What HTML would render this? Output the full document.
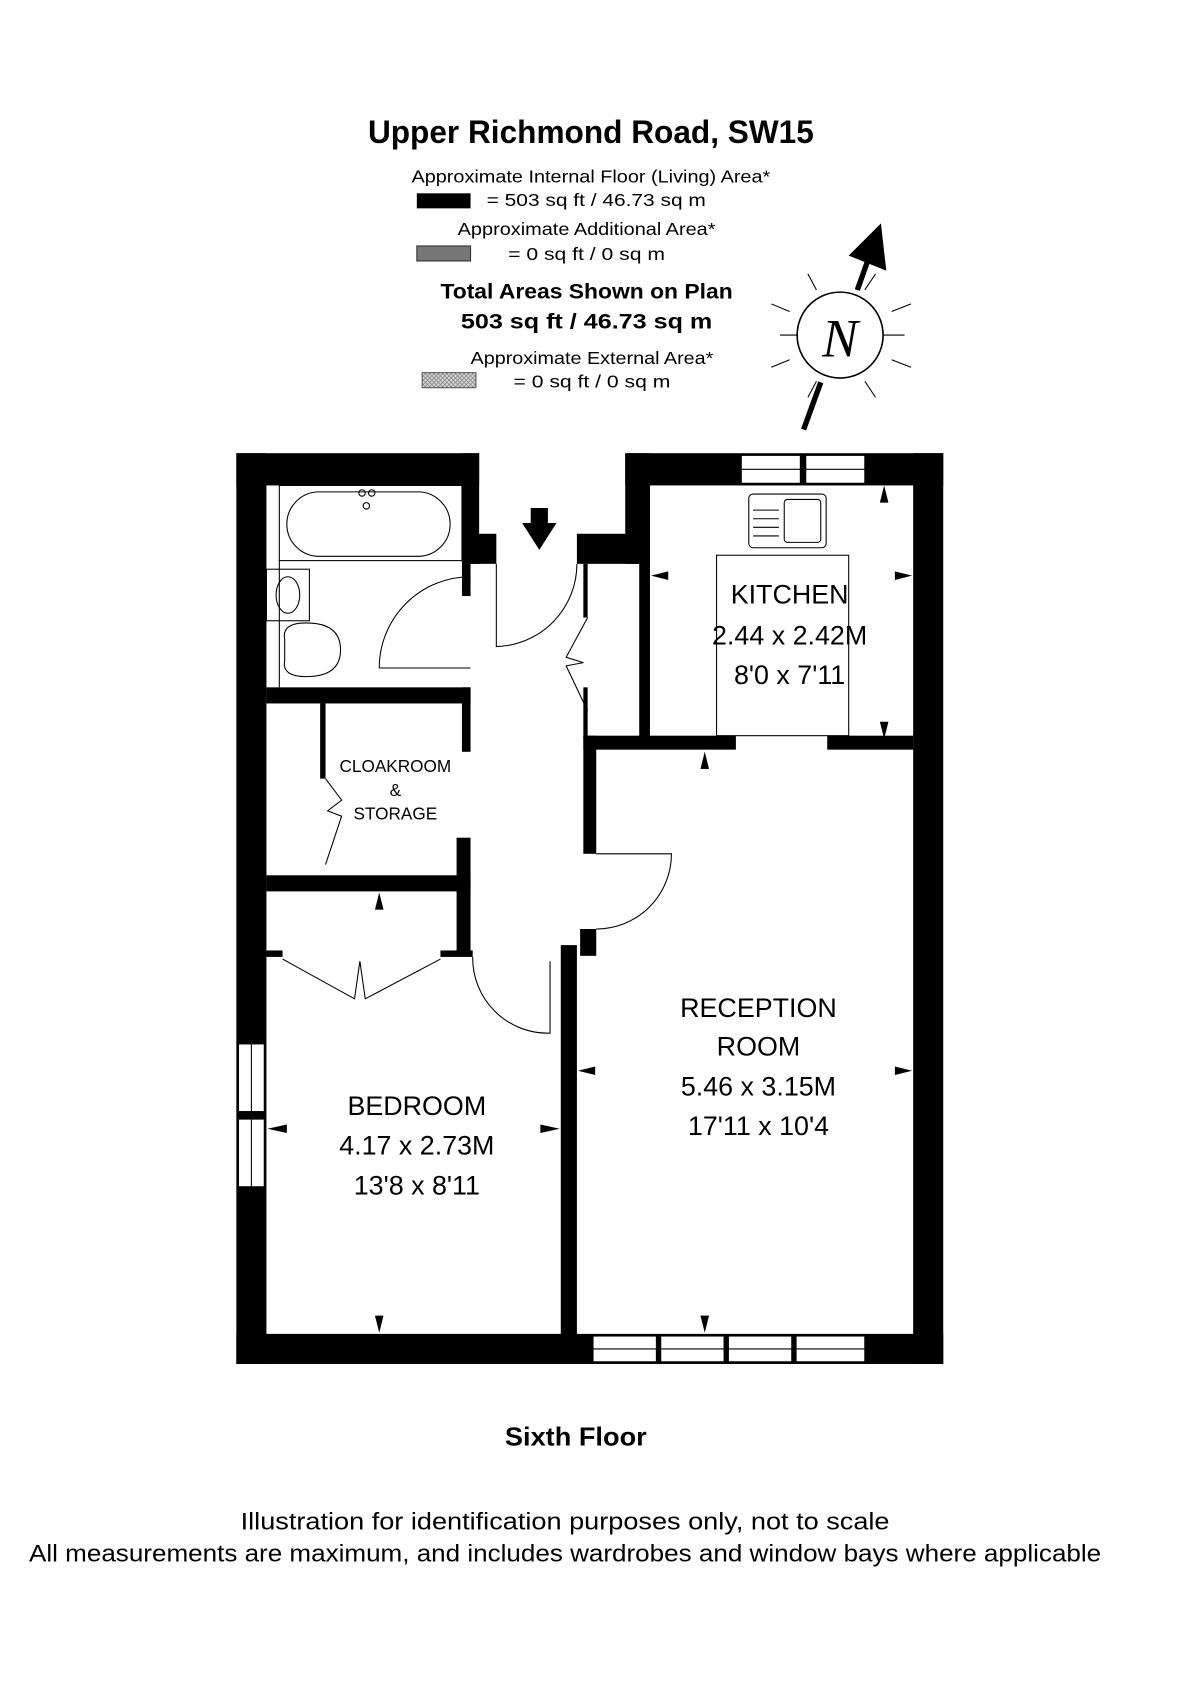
<!DOCTYPE html>
<html><head><meta charset="utf-8"><style>html,body{margin:0;padding:0;background:#fff}svg{display:block}</style></head>
<body>
<svg width="1200" height="1684" viewBox="0 0 1117 1568" preserveAspectRatio="none" xmlns="http://www.w3.org/2000/svg" font-family="'Liberation Sans', 'DejaVu Sans', sans-serif">
<defs><pattern id="hatch" width="4" height="4" patternUnits="userSpaceOnUse"><rect width="4" height="4" fill="#ddd"/><path d="M0 0L4 4M4 0L0 4" stroke="#777" stroke-width="0.7"/></pattern></defs>
<g text-anchor="middle" fill="#000">
<text x="550" y="133" font-size="30" font-weight="bold" textLength="415" lengthAdjust="spacingAndGlyphs">Upper Richmond Road, SW15</text>
<text x="550" y="170" font-size="16" textLength="334" lengthAdjust="spacingAndGlyphs">Approximate Internal Floor (Living) Area*</text>
<text x="555" y="192" font-size="16" textLength="204" lengthAdjust="spacingAndGlyphs">= 503 sq ft  /  46.73 sq m</text>
<text x="546" y="219" font-size="16" textLength="240" lengthAdjust="spacingAndGlyphs">Approximate Additional Area*</text>
<text x="546" y="242" font-size="16" textLength="146" lengthAdjust="spacingAndGlyphs">= 0 sq ft  /  0 sq m</text>
<text x="546" y="278" font-size="20" font-weight="bold" textLength="272" lengthAdjust="spacingAndGlyphs">Total Areas Shown on Plan</text>
<text x="546" y="306" font-size="20" font-weight="bold" textLength="234" lengthAdjust="spacingAndGlyphs">503 sq ft  /  46.73 sq m</text>
<text x="551" y="339" font-size="16" textLength="226" lengthAdjust="spacingAndGlyphs">Approximate External Area*</text>
<text x="551" y="361" font-size="16" textLength="146" lengthAdjust="spacingAndGlyphs">= 0 sq ft  /  0 sq m</text>
</g>
<rect x="388" y="180" width="50" height="14" fill="#000"/>
<rect x="388" y="229" width="50" height="14" fill="#777" stroke="#333"/>
<rect x="393" y="347" width="50" height="14" fill="url(#hatch)" stroke="#555"/>
<g stroke="#000" fill="none">
<circle cx="782" cy="312" r="40" stroke-width="1.5"/>
<g stroke-width="1"><line x1="735" y1="290" x2="718" y2="283"/><line x1="735" y1="335" x2="718" y2="342"/><line x1="830" y1="290" x2="848" y2="283"/><line x1="830" y1="335" x2="848" y2="342"/><line x1="760" y1="270" x2="752" y2="255"/><line x1="805" y1="270" x2="815" y2="255"/><line x1="760" y1="355" x2="752" y2="370"/><line x1="805" y1="355" x2="815" y2="370"/><line x1="726" y1="312" x2="742" y2="312"/><line x1="822" y1="312" x2="842" y2="312"/></g>
<line x1="748" y1="400" x2="764" y2="356" stroke-width="5"/>
<line x1="798" y1="270" x2="808" y2="242" stroke-width="5"/>
</g>
<polygon points="820,208 825,252 790,238" fill="#000"/>
<text x="782" y="332" font-size="50" font-family="'Liberation Serif', serif" font-style="italic" text-anchor="middle">N</text>
<g fill="#000">
<rect x="220" y="422" width="28" height="848"/>
<rect x="220" y="1242" width="658" height="28"/>
<rect x="850" y="422" width="28" height="848"/>
<rect x="220" y="422" width="226" height="30"/>
<rect x="430" y="422" width="16" height="103"/>
<rect x="430" y="497" width="32" height="28"/>
<rect x="430" y="525" width="8" height="30"/>
<rect x="430" y="640" width="8" height="60"/>
<rect x="582" y="422" width="296" height="30"/>
<rect x="582" y="422" width="23" height="103"/>
<rect x="537" y="497" width="68" height="28"/>
<rect x="595" y="452" width="10" height="236"/>
<rect x="543" y="525" width="4" height="50"/>
<rect x="543" y="640" width="4" height="48"/>
<rect x="543" y="685" width="142" height="13"/>
<rect x="770" y="685" width="80" height="13"/>
<rect x="543" y="685" width="12" height="110"/>
<rect x="540" y="865" width="15" height="25"/>
<rect x="522" y="880" width="15" height="370"/>
<rect x="248" y="640" width="190" height="15"/>
<rect x="298" y="655" width="5" height="70"/>
<rect x="425" y="780" width="13" height="110"/>
<rect x="248" y="815" width="190" height="15"/>
<rect x="248" y="885" width="15" height="6"/>
<rect x="410" y="885" width="30" height="6"/>
</g>
<g fill="#fff" stroke="#000" stroke-width="1">
<rect x="690" y="424" width="55" height="26"/><line x1="690" y1="437" x2="745" y2="437"/>
<rect x="750" y="424" width="55" height="26"/><line x1="750" y1="437" x2="805" y2="437"/>
<rect x="552" y="1244" width="59" height="24"/><rect x="615" y="1244" width="59" height="24"/><rect x="678" y="1244" width="59" height="24"/><rect x="741" y="1244" width="64" height="24"/>
<line x1="552" y1="1256" x2="805" y2="1256"/>
<rect x="222" y="972" width="24" height="63"/><rect x="222" y="1042" width="24" height="63"/>
<line x1="234" y1="972" x2="234" y2="1105"/>
</g>
<g fill="none" stroke="#000" stroke-width="1">
<rect x="260" y="452" width="170" height="70"/>
<rect x="267" y="458" width="152" height="60" rx="30"/>
<circle cx="337" cy="459" r="3"/><circle cx="346" cy="459" r="3"/><circle cx="341" cy="471" r="3"/>
<line x1="260" y1="522" x2="260" y2="640"/>
<rect x="248" y="530" width="40" height="48"/><ellipse cx="268" cy="554" rx="11" ry="17"/>
<path d="M265 595 Q262 580 285 580 Q317 580 317 605 Q317 630 285 630 Q262 630 265 615 Z"/>
<path d="M353 622 A85 85 0 0 1 438 537"/><line x1="353" y1="622" x2="438" y2="622"/>
<path d="M462 525 L462 602 A77 77 0 0 0 537 525"/>
<path d="M547 575 L527 612 L543 617 L527 620 L547 662"/>
<path d="M303 725 L318 745 L305 755 L318 760 L303 805"/>
<rect x="667" y="517" width="123" height="168"/>
<rect x="697" y="460" width="72" height="50" rx="4"/><rect x="730" y="465" width="34" height="40" rx="3"/>
<line x1="701" y1="475" x2="725" y2="475"/><line x1="701" y1="483" x2="725" y2="483"/><line x1="701" y1="491" x2="725" y2="491"/><line x1="701" y1="499" x2="725" y2="499"/>
<path d="M555 865 A70 70 0 0 0 625 795 L555 795"/>
<path d="M440 891 A70 70 0 0 0 512 962 L512 895"/>
<path d="M263 893 L330 930 L335 895 L340 930 L410 893"/>
</g>
<polygon points="494,473 510,473 510,487 518,487 502,512 486,487 494,487" fill="#000"/>
<g fill="#000">
<polygon points="823,452 819,468 827,468"/><polygon points="823,688 819,672 827,672"/>
<polygon points="606,536 622,532 622,540"/><polygon points="849,536 833,532 833,540"/>
<polygon points="656,700 652,716 660,716"/><polygon points="656,1241 652,1225 660,1225"/>
<polygon points="538,997 554,993 554,1001"/><polygon points="849,997 833,993 833,1001"/>
<polygon points="353,831 349,847 357,847"/><polygon points="353,1241 349,1225 357,1225"/>
<polygon points="249,1051 267,1047 267,1055"/><polygon points="521,1051 503,1047 503,1055"/>
</g>
<g text-anchor="middle" fill="#000" font-size="25">
<text x="735" y="562">KITCHEN</text>
<text x="735" y="600">2.44 x 2.42M</text>
<text x="735" y="637">8'0 x 7'11</text>
<text x="706" y="947">RECEPTION</text>
<text x="706" y="983">ROOM</text>
<text x="706" y="1020">5.46 x 3.15M</text>
<text x="706" y="1057">17'11 x 10'4</text>
<text x="388" y="1038">BEDROOM</text>
<text x="388" y="1075">4.17 x 2.73M</text>
<text x="388" y="1112">13'8 x 8'11</text>
<g font-size="16"><text x="368" y="719">CLOAKROOM</text><text x="368" y="741">&amp;</text><text x="368" y="763">STORAGE</text></g>
<text x="536" y="1346" font-size="24" font-weight="bold" textLength="132" lengthAdjust="spacingAndGlyphs">Sixth Floor</text>
<text x="526" y="1424" font-size="22" textLength="604" lengthAdjust="spacingAndGlyphs">Illustration for identification purposes only, not to scale</text>
<text x="526" y="1454" font-size="22" textLength="998" lengthAdjust="spacingAndGlyphs">All measurements are maximum, and includes wardrobes and window bays where applicable</text>
</g>
</svg>
</body></html>
